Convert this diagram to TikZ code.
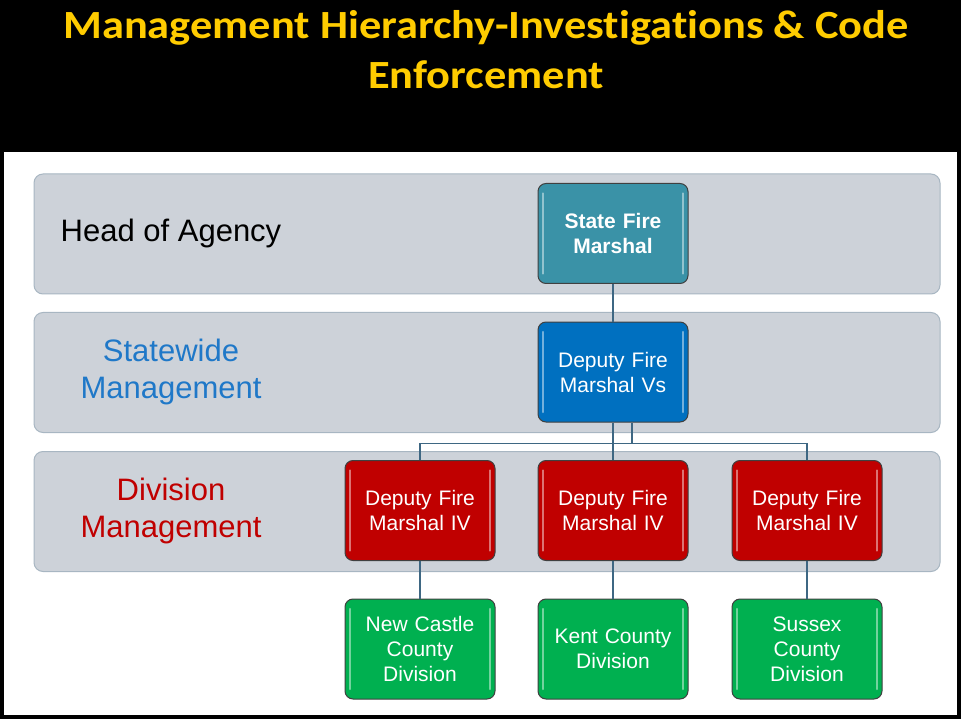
\documentclass[tikz,border=0pt]{standalone}
\usepackage{fontspec}
\setmainfont{Liberation Sans}
\newfontfamily\titlefont[Ligatures = NoCommon, FakeStretch = 1.11]{Carlito}
\definecolor{titleyellow}{HTML}{FFCC00}
\definecolor{bandgray}{HTML}{CDD2D9}
\definecolor{bandedge}{HTML}{A8B6C2}
\definecolor{boxedge}{HTML}{404040}
\definecolor{linkblue}{HTML}{3E6783}
\definecolor{sfmteal}{HTML}{3A92A7}
\definecolor{stateblue}{HTML}{0070C0}
\definecolor{divred}{HTML}{C00000}
\definecolor{cntygreen}{HTML}{00B050}
\definecolor{labblue}{HTML}{1F78C8}
\definecolor{labred}{HTML}{C00000}
\begin{document}
\begin{tikzpicture}[x = 1pt, y = -1pt,
                    band/.style = {draw = bandedge, fill = bandgray, rounded corners = 9pt, line width = 1pt,
                                   minimum width = 906pt, minimum height = 120pt},
                    rowlab/.style = {font = \fontsize{31}{37}\selectfont, align = center},
                    box/.style = {draw = boxedge, rounded corners = 8pt, line width = 1pt,
                                  minimum width = 150pt, minimum height = 100pt, text width = 140pt,
                                  align = center, text = white, font = \fontsize{21}{25}\selectfont,
                                  path picture = {
                                    \draw [white, opacity = 0.45, line width = 2.5pt, line cap = round]
                                      ([xshift = 5pt, yshift = -10pt]path picture bounding box.north west) --
                                      ([xshift = 5pt, yshift = 10pt]path picture bounding box.south west);
                                    \draw [white, opacity = 0.45, line width = 2.5pt, line cap = round]
                                      ([xshift = -5pt, yshift = -10pt]path picture bounding box.north east) --
                                      ([xshift = -5pt, yshift = 10pt]path picture bounding box.south east);}},
                    link/.style = {draw = linkblue, line width = 1.2pt}]
  \useasboundingbox (0, 0) rectangle (961, 719);
  \fill [black] (0, 0) rectangle (961, 719);
  \fill [white] (4, 152) rectangle (957, 715);

  \node [font = \titlefont\bfseries\fontsize{40}{50}\selectfont, text = titleyellow, align = center]
        (title) at (486, 50) {Management Hierarchy-Investigations \& Code\\Enforcement};

  \node [band] (rowhead) at (487, 234){};
  \node [band] (rowstate) at (487, 372.5){};
  \node [band] (rowdiv) at (487, 511.5){};

  \node [rowlab] (labhead) at (171, 233) {Head of Agency};
  \node [rowlab, text = labblue] (labstate) at (171, 372) {Statewide\\Management};
  \node [rowlab, text = labred] (labdiv) at (171, 511) {Division\\Management};

  \node [box, fill = sfmteal, font = \bfseries\fontsize{21}{25}\selectfont] (sfm) at (613, 233.5) {State Fire\\Marshal};
  \node [box, fill = stateblue] (dfmv) at (613, 372) {Deputy Fire\\Marshal Vs};
  \node [box, fill = divred] (div1) at (420, 510.5) {Deputy Fire\\Marshal IV};
  \node [box, fill = divred] (div2) at (613, 510.5) {Deputy Fire\\Marshal IV};
  \node [box, fill = divred] (div3) at (807, 510.5) {Deputy Fire\\Marshal IV};
  \node [box, fill = cntygreen] (newcastle) at (420, 649) {New Castle\\County\\Division};
  \node [box, fill = cntygreen] (kent) at (613, 649) {Kent County\\Division};
  \node [box, fill = cntygreen] (sussex) at (807, 649) {Sussex\\County\\Division};

  \draw [link] (sfm) -- (dfmv);
  \draw [link] (dfmv) -- (div2);
  \draw [link] ([xshift = 19pt]dfmv.south) -- ++(0, 21) -| (div1.north);
  \draw [link] ([xshift = 19pt]dfmv.south) -- ++(0, 21) -| (div3.north);
  \draw [link] (div1) -- (newcastle);
  \draw [link] (div2) -- (kent);
  \draw [link] (div3) -- (sussex);
\end{tikzpicture}
\end{document}
